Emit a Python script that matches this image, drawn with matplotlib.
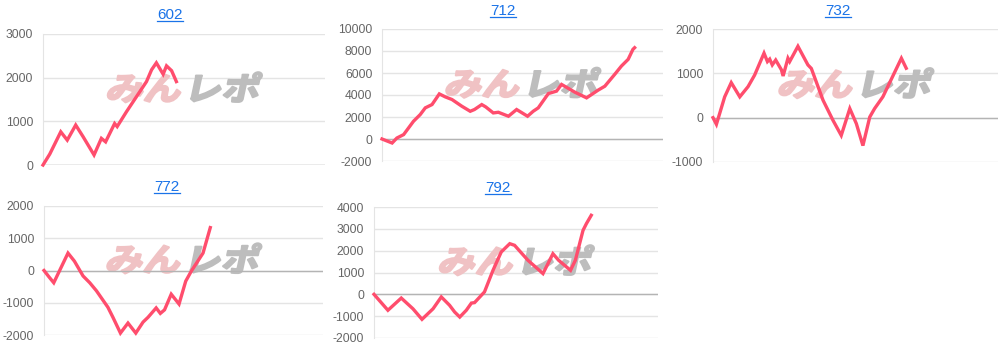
import matplotlib
matplotlib.use("Agg")
import matplotlib.pyplot as plt
from matplotlib import patheffects
from matplotlib.lines import Line2D
from matplotlib.transforms import Affine2D, offset_copy


# machine numbers and their running balance (x = play count, 0..100 per panel)
TITLES = ["602", "712", "732", "772", "792"]

X_602 = [0, 2.4, 6.3, 8.6, 11.6, 14.2, 18.1, 20.7, 22.2, 25.4, 26.3, 29.6, 33.1, 36.7, 38.5, 40.2, 42.6, 43.8, 45.6, 47.3]
Y_602 = [0, 250, 760, 570, 915, 650, 230, 610, 530, 950, 880, 1220, 1560, 1910, 2180, 2340, 2080, 2270, 2160, 1910]

X_712 = [0, 3.6, 5.3, 7.7, 11.2, 13.6, 15.4, 17.8, 20.4, 22.5, 24.9, 28.4, 31.4, 32.9, 35.5, 36.9, 39.6, 41.4,
         45.0, 47.9, 51.8, 53.8, 55.6, 59.2, 62.1, 63.9, 68.6, 72.8, 76.9, 79.3, 82.8, 85.2, 87.6, 89.3, 89.9]
Y_712 = [0, -365, 90, 400, 1610, 2220, 2830, 3130, 4100, 3830, 3590, 2980, 2520, 2680, 3130, 2920, 2370, 2430,
         2070, 2680, 2070, 2520, 2830, 4130, 4350, 4960, 4260, 3740, 4440, 4800, 5870, 6630, 7240, 8150, 8300]

X_732 = [0, 1.2, 4.1, 6.4, 9.4, 12.3, 14.6, 17.9, 19.1, 19.9, 20.8, 22.0, 24.0, 24.6, 26.3, 26.9, 29.8, 33.3,
         34.5, 38.6, 42.1, 45.0, 48.0, 50.3, 52.6, 55.0, 56.7, 59.6, 66.1, 67.8]
Y_732 = [0, -150, 470, 790, 470, 700, 960, 1455, 1265, 1320, 1190, 1300, 1080, 940, 1340, 1265, 1610, 1190,
         1110, 395, -60, -400, 205, -135, -630, 15, 205, 470, 1340, 1115]

X_772 = [0, 1.8, 3.5, 8.6, 10.9, 14.0, 16.4, 18.8, 22.9, 24.7, 27.4, 30.1, 32.9, 35.5, 37.3, 40.2, 41.7, 43.2,
         45.6, 48.4, 50.8, 52.8, 57.0, 59.6]
Y_772 = [0, -200, -380, 540, 290, -170, -380, -630, -1140, -1450, -1940, -1630, -1940, -1600, -1450, -1160,
         -1330, -1220, -735, -1040, -330, -20, 540, 1330]

X_792 = [0, 4.9, 9.6, 13.7, 16.9, 20.8, 23.7, 26.6, 28.4, 30.2, 32.5, 34.3, 35.4, 38.9, 41.9, 44.8, 47.8, 49.5,
         54.2, 59.5, 63.0, 65.0, 69.2, 70.9, 73.6, 74.8, 76.5]
Y_792 = [0, -730, -170, -660, -1145, -660, -120, -500, -810, -1040, -730, -400, -380, 110, 1100, 1940, 2320,
         2245, 1560, 950, 1860, 1560, 1100, 1560, 2930, 3240, 3620]

YTICKS = [
    [0, 1000, 2000, 3000],
    [-2000, 0, 2000, 4000, 6000, 8000, 10000],
    [-1000, 0, 1000, 2000],
    [-2000, -1000, 0, 1000, 2000],
    [-2000, -1000, 0, 1000, 2000, 3000, 4000],
]
SERIES = [(X_602, Y_602), (X_712, Y_712), (X_732, Y_732), (X_772, Y_772), (X_792, Y_792)]

W, H = 1006, 350
# plot boxes in pixels: left, top, right, bottom ; title centre x, y
BOXES = [(43, 34, 325, 165), (382, 29, 663, 161), (713, 29, 998, 162), (44, 206, 323, 335), (374, 207, 658, 338)]
TITLE_POS = [(170, 15), (503, 11), (838, 11), (167, 187), (498, 188)]

LINE_COLOR = "#ff4d6d"
LINK_COLOR = "#1a73e8"


class Slant(patheffects.AbstractPathEffect):
    """Widen, lean and thicken the text a bit, like the logo."""

    def __init__(self, sx=1.18, skew=12, stroke=1.6):
        super().__init__()
        self.sx = sx
        self.skew = skew
        self.stroke = stroke

    def draw_path(self, renderer, gc, tpath, affine, rgbFace=None):
        box = affine.transform_path(tpath).get_extents()
        cx, cy = (box.x0 + box.x1) / 2, (box.y0 + box.y1) / 2
        extra = Affine2D().translate(-cx, -cy).scale(self.sx, 1).skew_deg(self.skew, 0).translate(cx, cy)
        gc0 = renderer.new_gc()
        gc0.copy_properties(gc)
        gc0.set_linewidth(self.stroke)
        if rgbFace is not None:
            gc0.set_foreground(rgbFace)
        renderer.draw_path(gc0, tpath, affine + extra, rgbFace)
        gc0.restore()


fig = plt.figure(figsize=(W / 100, H / 100), dpi=100)
fig.patch.set_facecolor("white")

titles = []
for i, (left, top, right, bottom) in enumerate(BOXES):
    ax = fig.add_axes([left / W, 1 - bottom / H, (right - left) / W, (bottom - top) / H])
    xs, ys = SERIES[i]
    ticks = YTICKS[i]

    ax.set_xlim(0, 100)
    ax.set_ylim(ticks[0], ticks[-1])
    ax.set_yticks(ticks)
    ax.set_yticklabels([str(t) for t in ticks])
    ax.set_xticks([])
    ax.grid(axis="y", color="#e4e4e4", lw=1)
    ax.set_axisbelow(True)
    ax.axhline(0, color="#b4b4b4", lw=1, zorder=2)
    for side in ("top", "right", "bottom"):
        ax.spines[side].set_visible(False)
    ax.spines["left"].set_color("#e4e4e4")
    ax.tick_params(axis="y", length=0, pad=7, labelsize=8.7, labelcolor="#666666")
    for lab in ax.get_yticklabels():
        lab.set_family("Liberation Sans")

    # watermark
    slant = [Slant()]
    ax.text(0.505, 0.565, "みん", transform=offset_copy(ax.transAxes, fig=fig, x=-29, y=0, units="points"),
            ha="center", va="center", fontsize=23, fontweight="bold", color="#f0c2c4",
            family=["Noto Sans CJK JP", "DejaVu Sans"], path_effects=slant, zorder=1)
    ax.text(0.505, 0.565, "レポ", transform=offset_copy(ax.transAxes, fig=fig, x=28, y=0, units="points"),
            ha="center", va="center", fontsize=23, fontweight="bold", color="#bdbdbd",
            family=["Noto Sans CJK JP", "DejaVu Sans"], path_effects=slant, zorder=1)

    ax.plot(xs, ys, color=LINE_COLOR, lw=2.4, solid_joinstyle="miter", zorder=3, clip_on=False)

    tx, ty = TITLE_POS[i]
    titles.append(fig.text(tx / W, 1 - ty / H, TITLES[i], ha="center", va="center", fontsize=11,
                           color=LINK_COLOR, family="Liberation Sans"))

# underline the titles (they are links in the original)
fig.canvas.draw()
renderer = fig.canvas.get_renderer()
for t in titles:
    bb = t.get_window_extent(renderer)
    (x0, y0), (x1, _) = fig.transFigure.inverted().transform([(bb.x0, bb.y0 + 1), (bb.x1, bb.y0)])
    fig.add_artist(Line2D([x0, x1], [y0, y0], color=LINK_COLOR, lw=0.9, transform=fig.transFigure))

fig.savefig("out.png", dpi=100)
plt.close(fig)
